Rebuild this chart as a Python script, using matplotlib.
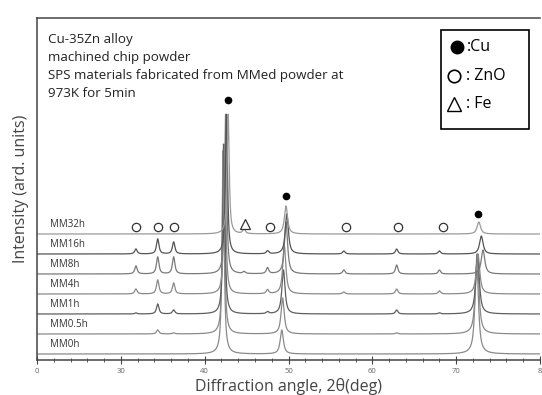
import numpy as np
import matplotlib
matplotlib.use("Agg")
import matplotlib.pyplot as plt
from matplotlib.patches import Rectangle

plt.rcParams['font.family'] = ['Open Sans', 'DejaVu Sans']

# samples, bottom to top
samples = ['MM0h', 'MM0.5h', 'MM1h', 'MM4h', 'MM8h', 'MM16h', 'MM32h']
offsets = [0, 1, 2, 3, 4, 5, 6]
colors = ['#8a8a8a', '#8a8a8a', '#5e5e5e', '#8a8a8a', '#7a7a7a', '#555555', '#9a9a9a']

# Cu peaks (position, height) per sample
cu111_pos = [42.2, 42.25, 42.3, 42.4, 42.5, 42.6, 42.8]
cu111_h = [10.2, 9.5, 8.5, 7.5, 8.0, 7.0, 6.0]
cu200_pos = [49.2, 49.3, 49.4, 49.5, 49.7, 49.8, 49.7]
cu200_h = [1.2, 1.8, 2.2, 2.4, 2.6, 2.0, 1.4]
cu220_pos = [72.45, 72.5, 72.55, 72.6, 73.2, 73.0, 72.7]
cu220_h = [4.5, 4.0, 3.0, 2.0, 1.2, 0.9, 0.6]

# ZnO peaks
zno_pos = [31.8, 34.4, 36.3, 47.5, 56.6, 62.9, 68.0]
zno_h = [
    [0, 0, 0, 0, 0, 0, 0],
    [0, 0.2, 0.05, 0, 0, 0.05, 0],
    [0.05, 0.5, 0.2, 0.1, 0, 0.2, 0.05],
    [0.25, 0.7, 0.55, 0.2, 0.1, 0.25, 0.15],
    [0.4, 0.85, 0.85, 0.3, 0.2, 0.45, 0.2],
    [0.25, 0.75, 0.6, 0.15, 0.15, 0.25, 0.15],
    [0, 0, 0, 0, 0, 0, 0],
]
# Fe peak
fe_pos = 44.7
fe_h = [0, 0, 0, 0, 0.1, 0, 0.25]

# marker positions above the top pattern
cu_mark_x = [42.8, 49.7, 72.6]
cu_mark_y = [12.7, 7.9, 7.0]
zno_mark_x = [31.8, 34.4, 36.4, 47.8, 56.8, 63.1, 68.4]
zno_mark_y = 6.33
fe_mark_x = 44.8
fe_mark_y = 6.5


def peak(x, pos, h, w, eta=0.85):
    g = np.exp(-4 * np.log(2) * ((x - pos) / w) ** 2)
    lo = 1 / (1 + 4 * ((x - pos) / w) ** 2)
    return h * (eta * lo + (1 - eta) * g)


x = np.linspace(20, 80, 3000)

fig = plt.figure(figsize=(5.42, 3.95), dpi=100)
ax = fig.add_axes([37 / 542, 35 / 395, 503 / 542, 342 / 395])

for i, name in enumerate(samples):
    y = np.full_like(x, offsets[i], dtype=float)
    y += peak(x, cu111_pos[i], cu111_h[i], 0.3)
    y += peak(x, cu200_pos[i], cu200_h[i], 0.45)
    y += peak(x, cu220_pos[i], cu220_h[i], 0.5)
    for p, h in zip(zno_pos, zno_h[i]):
        y += peak(x, p, h, 0.35)
    y += peak(x, fe_pos, fe_h[i], 0.35)
    ax.plot(x, y, color=colors[i], lw=0.9)
    ax.text(21.5, offsets[i] + 0.18, name, fontsize=7, color='#333333',
            ha='left', va='bottom')

ax.plot(cu_mark_x, cu_mark_y, 'o', color='black', ms=4.5, ls='none')
ax.plot(zno_mark_x, [zno_mark_y] * len(zno_mark_x), 'o', mfc='white',
        mec='#333333', mew=0.9, ms=6, ls='none')
ax.plot([fe_mark_x], [fe_mark_y], '^', mfc='white', mec='#333333',
        mew=0.9, ms=7, ls='none')

# description
ax.text(0.022, 0.955, 'Cu-35Zn alloy\nmachined chip powder\n'
        'SPS materials fabricated from MMed powder at\n973K for 5min',
        transform=ax.transAxes, fontsize=9.6, va='top', ha='left',
        linespacing=1.5, color='#222222')

# legend box
ax.add_patch(Rectangle((0.803, 0.675), 0.175, 0.29, transform=ax.transAxes,
                       fill=False, ec='black', lw=1.2))
ax.plot([0.834], [0.915], 'o', color='black', ms=9, transform=ax.transAxes)
ax.plot([0.829], [0.83], 'o', mfc='white', mec='black', mew=1.2, ms=9,
        transform=ax.transAxes)
ax.plot([0.829], [0.748], '^', mfc='white', mec='black', mew=1.0, ms=10,
        transform=ax.transAxes)
ax.text(0.855, 0.915, ':Cu', transform=ax.transAxes, fontsize=11.5, va='center')
ax.text(0.852, 0.83, ': ZnO', transform=ax.transAxes, fontsize=11.5, va='center')
ax.text(0.852, 0.748, ': Fe', transform=ax.transAxes, fontsize=11.5, va='center')

ax.set_xlim(20, 80)
ax.set_ylim(-0.3, 16.8)
ax.set_yticks([])
ax.set_xticks([20, 30, 40, 50, 60, 70, 80])
ax.set_xticklabels(['0', '30', '40', '50', '60', '70', '8'])
ax.set_xticks(np.arange(20, 81, 2), minor=True)
ax.tick_params(axis='x', which='major', direction='inout', length=6,
               labelsize=5.5, labelcolor='#666666', color='#444444', pad=3)
ax.tick_params(axis='x', which='minor', direction='inout', length=3,
               color='#444444')
for s in ['left', 'top', 'bottom']:
    ax.spines[s].set_color('#444444')
    ax.spines[s].set_linewidth(1.1)
ax.spines['right'].set_visible(False)

ax.set_xlabel('Diffraction angle, 2θ(deg)', fontsize=11.5, color='#444444',
              labelpad=2)
ax.set_ylabel('Intensity (ard. units)', fontsize=11.5, color='#444444',
              labelpad=6)

fig.savefig('out.png', dpi=100)
